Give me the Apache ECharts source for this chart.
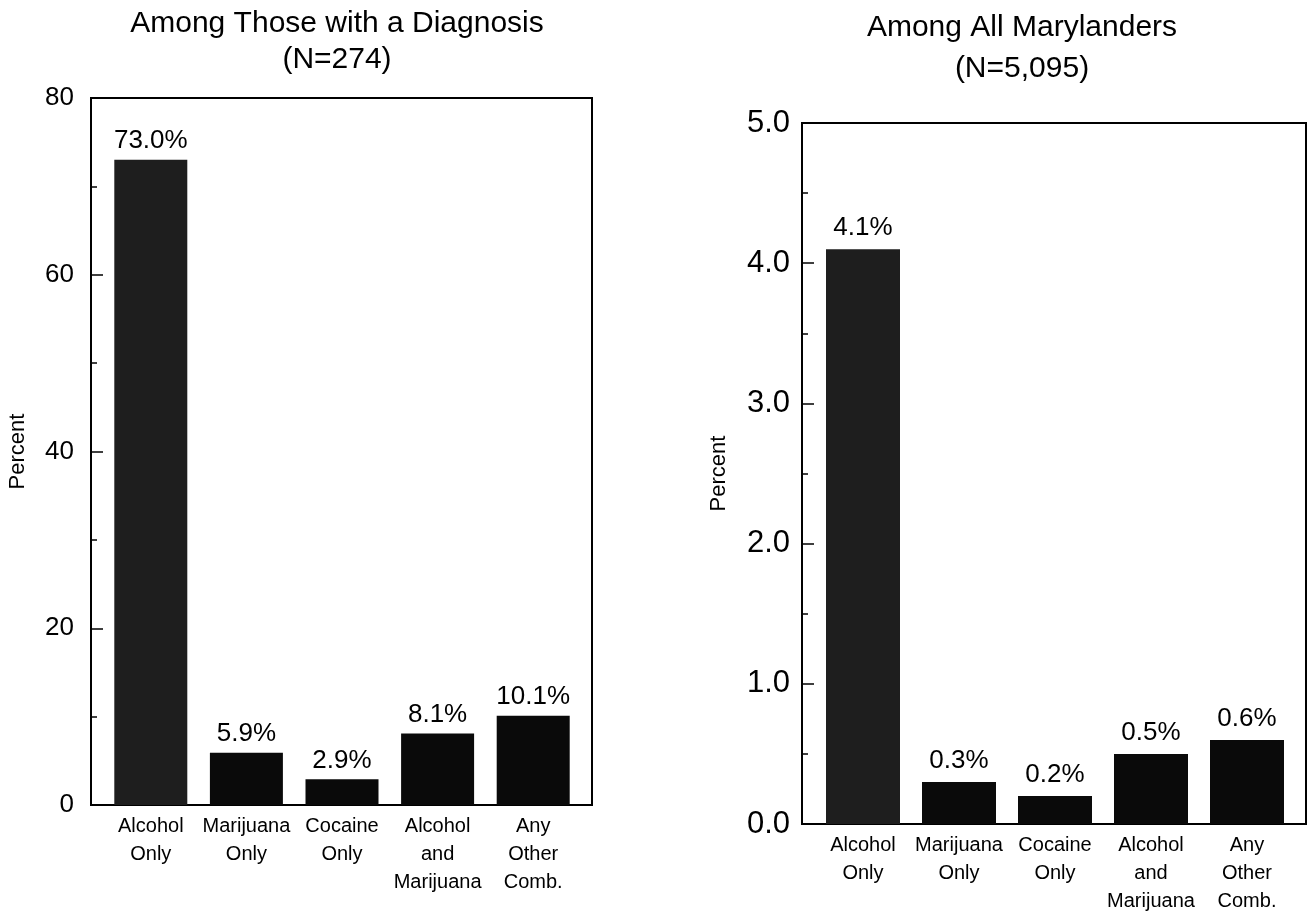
<!DOCTYPE html>
<html>
<head>
<meta charset="utf-8">
<script src="https://cdn.jsdelivr.net/npm/echarts@6/dist/echarts.min.js"></script>
<style>
  html, body { margin: 0; padding: 0; background: #fff; }
  #chart { width: 1309px; height: 913px; }
</style>
</head>
<body>
<div id="chart"></div>
<script>
// ---- data ----
const categories = ['Alcohol\nOnly', 'Marijuana\nOnly', 'Cocaine\nOnly', 'Alcohol\nand\nMarijuana', 'Any\nOther\nComb.'];
const diagnosisValues = [73.0, 5.9, 2.9, 8.1, 10.1];
const allMarylandersValues = [4.1, 0.3, 0.2, 0.5, 0.6];
const leftTitle = 'Among Those with a Diagnosis\n(N=274)';
const rightTitle = 'Among All Marylanders\n(N=5,095)';
const leftAxisMax = 80, leftAxisInterval = 20;
const rightAxisMax = 5, rightAxisInterval = 1;
const axisName = 'Percent';

const FONT = 'Liberation Sans, Arial, Helvetica, sans-serif';
const chart = echarts.init(document.getElementById('chart'), null, { renderer: 'canvas' });

function frameYAxis(gridIndex, max, interval, fontSize, labelMargin, nameGap, decimals) {
  return {
    gridIndex: gridIndex, type: 'value', min: 0, max: max, interval: interval,
    axisLine: { show: true, lineStyle: { color: '#000', width: 2 } },
    axisTick: { show: true, inside: true, length: 12, lineStyle: { color: '#000', width: 1.5 } },
    minorTick: { show: true, splitNumber: 2, length: 6, lineStyle: { color: '#000', width: 1.5 } },
    splitLine: { show: false },
    axisLabel: { fontSize: fontSize, color: '#000', margin: labelMargin, fontFamily: FONT,
      formatter: v => v.toFixed(decimals) },
    name: axisName, nameLocation: 'middle', nameGap: nameGap,
    nameTextStyle: { fontSize: 22, color: '#000', fontFamily: FONT }
  };
}
function innerYAxis(gridIndex, max) {
  return { gridIndex: gridIndex, type: 'value', min: 0, max: max, show: false, splitLine: { show: false } };
}
function hiddenXAxis(gridIndex) {
  return { gridIndex: gridIndex, type: 'category', data: categories, show: false };
}
function labelXAxis(gridIndex, margin) {
  return {
    gridIndex: gridIndex, type: 'category', data: categories,
    axisLine: { show: false }, axisTick: { show: false },
    axisLabel: { interval: 0, fontSize: 20, lineHeight: 28, color: '#000', margin: margin, fontFamily: FONT }
  };
}
function barSeries(axisIndex, values, barWidth, labelDistance) {
  return {
    type: 'bar', xAxisIndex: axisIndex, yAxisIndex: axisIndex, data: values,
    barWidth: barWidth,
    itemStyle: { color: p => (p.dataIndex === 0 ? '#1e1e1e' : '#0a0a0a') },
    label: { show: true, position: 'top', distance: labelDistance, fontSize: 26, color: '#000',
      fontFamily: FONT, formatter: p => p.value.toFixed(1) + '%' },
    silent: true, animation: false
  };
}
function grid(left, top, width, height, framed) {
  const g = { left: left, top: top, width: width, height: height, outerBoundsMode: 'none', containLabel: false };
  if (framed) Object.assign(g, { show: true, borderColor: '#000', borderWidth: 2, backgroundColor: 'transparent' });
  return g;
}

const option = {
  animation: false,
  textStyle: { fontFamily: FONT },
  graphic: [
    { type: 'text', x: 337, y: 6, style: { text: leftTitle, font: '30px ' + FONT, fill: '#000', align: 'center', lineHeight: 36 } },
    { type: 'text', x: 1022, y: 7, style: { text: rightTitle, font: '30px ' + FONT, fill: '#000', align: 'center', lineHeight: 41 } }
  ],
  grid: [
    grid(91, 98, 501, 707, true),
    grid(103, 98, 478, 707, false),
    grid(802, 123, 504, 701, true),
    grid(815, 123, 480, 701, false)
  ],
  xAxis: [hiddenXAxis(0), labelXAxis(1, 7), hiddenXAxis(2), labelXAxis(3, 7)],
  yAxis: [
    frameYAxis(0, leftAxisMax, leftAxisInterval, 26, 17, 62, 0),
    innerYAxis(1, leftAxisMax),
    frameYAxis(2, rightAxisMax, rightAxisInterval, 31, 12, 72, 1),
    innerYAxis(3, rightAxisMax)
  ],
  series: [
    barSeries(1, diagnosisValues, 73, 6),
    barSeries(3, allMarylandersValues, 74, 8)
  ]
};
chart.setOption(option);
</script>
</body>
</html>
